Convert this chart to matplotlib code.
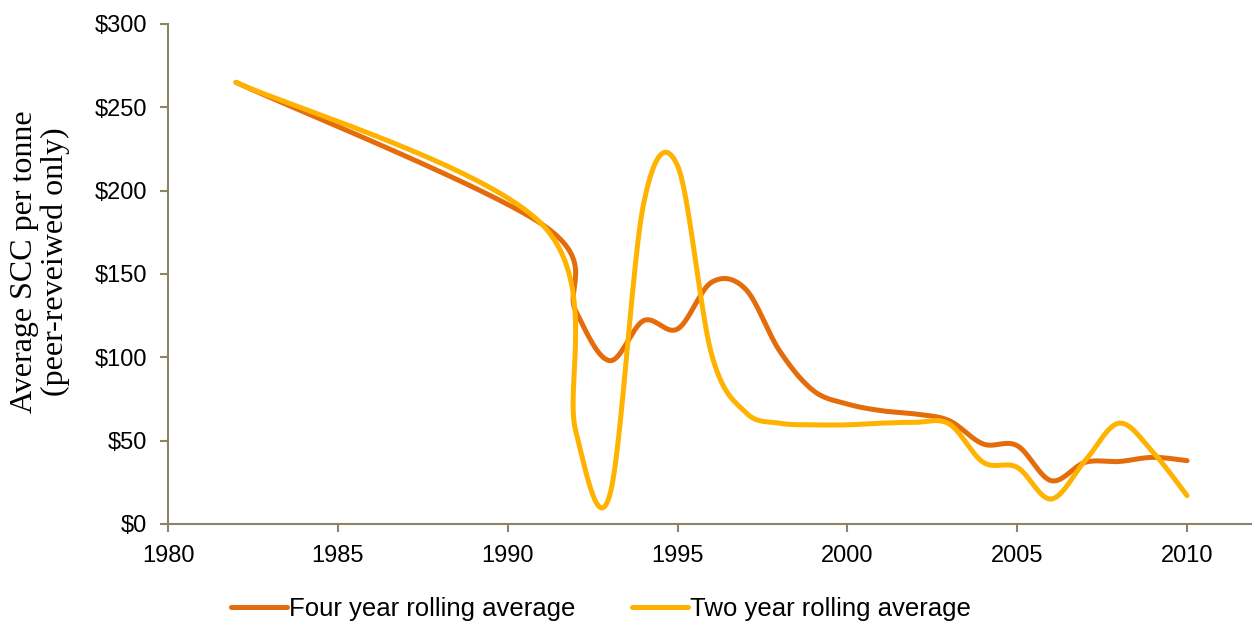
import numpy as np
import matplotlib
matplotlib.use("Agg")
import matplotlib.pyplot as plt

# values
years = [1982, 1991, 1992, 1993, 1994, 1995, 1996, 1997, 1998, 1999, 2000,
         2001, 2002, 2003, 2004, 2005, 2006, 2007, 2008, 2009, 2010]
four_year = [265, 180, 128, 98, 122, 117, 145, 141, 104, 80, 72,
             68, 66, 62, 48, 47, 26, 37, 37.5, 40, 38]
two_year = [265, 180, 56, 17, 192, 215, 102, 67, 60.5, 59.5, 59.5,
            60.5, 61, 60, 37, 34, 15, 38, 60.5, 43, 17]

series_names = ["Four year rolling average", "Two year rolling average"]
series_colors = ["#E46C0A", "#FFB300"]

y_ticks = [0, 50, 100, 150, 200, 250, 300]
x_ticks = [1980, 1985, 1990, 1995, 2000, 2005, 2010]


def smooth(xs, ys, n=60):
    # excel-like smoothed line: bezier segments, control points from neighbours / 6
    p = np.column_stack([xs, ys]).astype(float)
    out = []
    for i in range(len(p) - 1):
        p0 = p[i - 1] if i > 0 else p[i]
        p1 = p[i]
        p2 = p[i + 1]
        p3 = p[i + 2] if i + 2 < len(p) else p[i + 1]
        c1 = p1 + (p2 - p0) / 6
        c2 = p2 - (p3 - p1) / 6
        t = np.linspace(0, 1, n)[:, None]
        seg = ((1 - t) ** 3) * p1 + 3 * ((1 - t) ** 2) * t * c1 + 3 * (1 - t) * t ** 2 * c2 + t ** 3 * p2
        out.append(seg if i == 0 else seg[1:])
    out = np.vstack(out)
    return out[:, 0], out[:, 1]


plt.rcParams['font.family'] = ['Liberation Sans', 'DejaVu Sans']
axis_col = "#8B8466"

fig = plt.figure(figsize=(12.52, 6.23), dpi=100)
ax = fig.add_axes([168 / 1252, 1 - 524 / 623, (1255 - 168) / 1252, 500 / 623])

for vals, name, col in zip([four_year, two_year], series_names, series_colors):
    sx, sy = smooth(years, vals)
    ax.plot(sx, sy, color=col, lw=3.6, label=name, solid_capstyle='round')

ax.set_xlim(1980, 2012)
ax.set_ylim(0, 300)
ax.set_xticks(x_ticks)
ax.set_yticks(y_ticks)
ax.set_yticklabels(["$" + str(v) for v in y_ticks])
ax.tick_params(axis='both', labelsize=17, color=axis_col, length=6, width=1.5, pad=9)
for s in ["top", "right"]:
    ax.spines[s].set_visible(False)
for s in ["left", "bottom"]:
    ax.spines[s].set_color(axis_col)
    ax.spines[s].set_linewidth(1.5)

fig.text(40 / 1252, 1 - 262 / 623, "Average SCC per tonne\n(peer-reveiwed only)",
         rotation=90, ha='center', va='center', fontsize=23,
         family='Liberation Serif', linespacing=1.05)

fig.legend(loc='center', bbox_to_anchor=(0.480, 1 - 609 / 623), ncol=2, frameon=False,
           fontsize=18.5, handlelength=2.18, handletextpad=0.08, columnspacing=2.18)

fig.savefig("out.png", dpi=100)
